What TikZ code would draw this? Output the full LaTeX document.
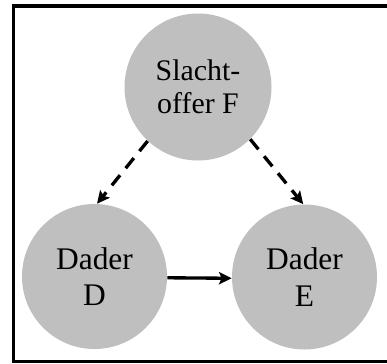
\documentclass[tikz,border=0pt]{standalone}
\usepackage{fontspec}
\setmainfont{Liberation Serif}
\usetikzlibrary{arrows.meta}

\begin{document}
\begin{tikzpicture}[>={Stealth[length=7.2pt,width=7pt,inset=1.5pt]},
  dader/.style={circle,fill=black!25,minimum size=2.9cm,inner sep=0pt,align=center,font=\fontsize{17.9}{20.8}\selectfont},
  link/.style={->,line width=1.9pt},
  maybe/.style={link,dash pattern=on 7.4pt off 5.1pt}]
\useasboundingbox (0,0) rectangle (7.74,7.26);
\draw[line width=2pt] (7.74,7.14) -- (0.274,7.14) -- (0.274,0.035) -- (7.74,0.035);
\node[dader,minimum size=2.94cm,font=\fontsize{17}{18.5}\selectfont] (F) at (3.96,5.52) {Slacht-\\offer F};
\node[dader] (D) at (1.89,1.73) {Dader\\D};
\node[dader] (E) at (6.09,1.72) {Dader\\E};
\draw[maybe] (F.227) -- (D.88);
\draw[maybe] (F.-45) -- (E.91);
\draw[link] (D.-1) -- (E.181);
\end{tikzpicture}
\end{document}
